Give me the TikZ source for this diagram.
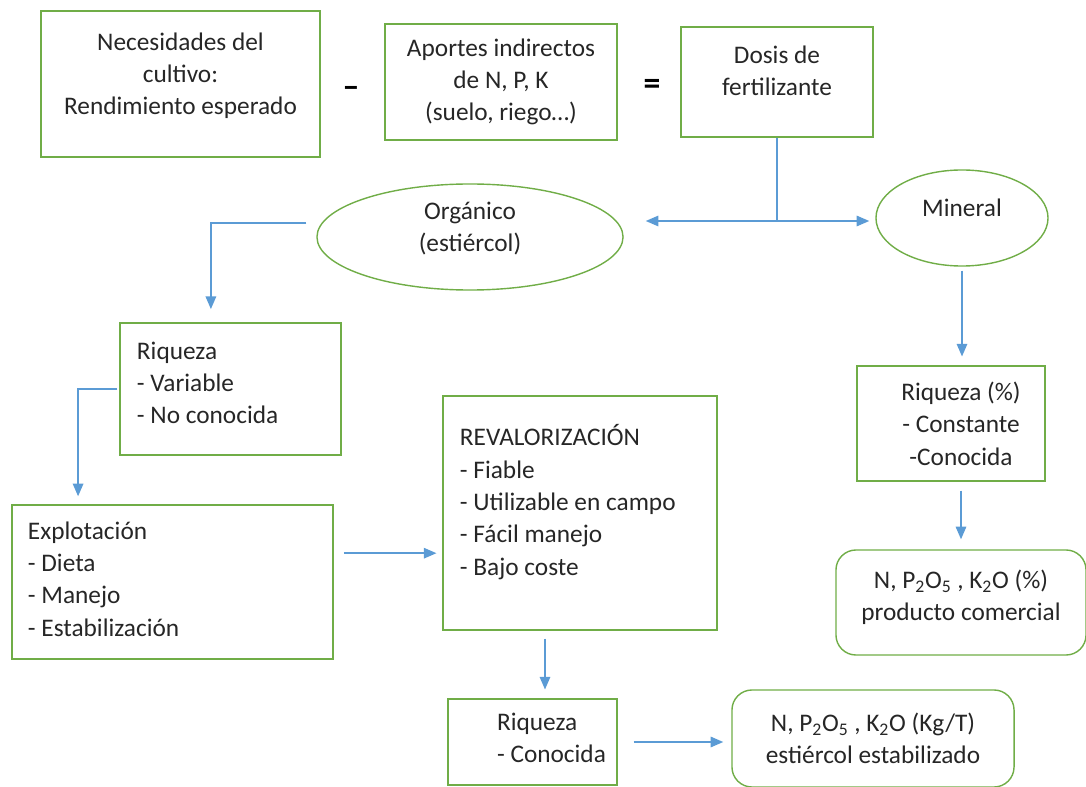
\documentclass[tikz,border=0pt]{standalone}
\usepackage{fontspec}
\setmainfont{Carlito}
\usetikzlibrary{shapes.geometric,arrows.meta}
\definecolor{boxgreen}{HTML}{70AD47}
\definecolor{linkblue}{HTML}{5B9BD5}
\tikzset{
  box/.style={draw=boxgreen,line width=1pt,align=center,inner sep=0pt,text=black!85},
  listbox/.style={box,align=flush left},
  rbox/.style={box,rounded corners=0.5cm},
  oval/.style={ellipse,draw=boxgreen,line width=1pt,align=center,inner sep=0pt,text=black!85},
  link/.style={draw=linkblue,line width=1pt},
  arrow/.style={link,-{Triangle[length=9pt,width=7.5pt]}},
  sign/.style={font=\bfseries\fontsize{24}{24}\selectfont}
}
\begin{document}
\begin{tikzpicture}[x=0.025cm,y=-0.025cm,font=\fontsize{18}{23}\selectfont]
\useasboundingbox (0,0) rectangle (1086,787);

% Top row: balance
\node[box,minimum width=6.975cm,minimum height=3.65cm] (necesidades) at (180.5,84)
  {Necesidades del\\cultivo:\\Rendimiento esperado\\[-0.3cm]};
\node[sign] (menos) at (351,92) {--};
\node[box,minimum width=5.8cm,minimum height=2.9cm] (aportes) at (501,82)
  {Aportes indirectos\\de N, P, K\\(suelo, riego\dots)};
\node[sign] (igual) at (652,87) {=};
\node[box,minimum width=4.8cm,minimum height=2.75cm] (dosis) at (777,82)
  {Dosis de\\fertilizante\\[-0.25cm]};

% Fertilizer types
\node[oval,minimum width=7.65cm,minimum height=2.65cm] (organico) at (470,237)
  {Orgánico\\(estiércol)\\[-0.3cm]};
\node[oval,minimum width=4.3cm,minimum height=2.4cm] (mineral) at (962,218)
  {Mineral\\[-0.3cm]};

% Organic branch
\node[listbox,inner xsep=0.42cm,text width=4.675cm,minimum height=3.3cm] (riqueza) at (230.5,389)
  {Riqueza\\- Variable\\- No conocida\par\vspace*{0.3cm}};
\node[listbox,inner xsep=0.4cm,text width=7.225cm,minimum height=3.85cm] (explotacion) at (172.5,582)
  {Explotación\\- Dieta\\- Manejo\\- Estabilización\par\vspace*{0.15cm}};
\node[listbox,inner xsep=0.42cm,text width=6.0cm,minimum height=5.85cm] (revalorizacion) at (580,513)
  {REVALORIZACIÓN\\- Fiable\\- Utilizable en campo\\- Fácil manejo\\- Bajo coste\par\vspace*{0.55cm}};
\node[box,align=left,minimum width=4.225cm,minimum height=2.15cm] (conocida) at (532.5,742)
  {\hspace{0.95cm}Riqueza\\\hspace{0.95cm}- Conocida\\[-0.6cm]};
\node[rbox,minimum width=7.05cm,minimum height=2.425cm] (estabilizado) at (873,738.5)
  {N, P\textsubscript{2}O\textsubscript{5} , K\textsubscript{2}O (Kg/T)\\estiércol estabilizado};

% Mineral branch
\node[box,minimum width=4.7cm,minimum height=2.875cm] (constante) at (951,423.5)
  {\hspace{0.5cm}Riqueza (\%)\\\hspace{0.5cm}- Constante\\\hspace{0.5cm}-Conocida};
\node[rbox,minimum width=6.25cm,minimum height=2.625cm] (comercial) at (961,602.5)
  {N, P\textsubscript{2}O\textsubscript{5} , K\textsubscript{2}O (\%)\\producto comercial\\[-0.45cm]};

% Connectors
\coordinate (reparto) at (dosis.south |- 0,221);
\draw[link] (dosis.south) -- (reparto);
\draw[arrow,shorten >=0.55cm] (reparto) -- (reparto -| organico.east);
\draw[arrow,shorten >=0.15cm] (reparto) -- (reparto -| mineral.west);

\coordinate (salidaorg) at ([shift={(-0.25cm,0.35cm)}]organico.west);
\draw[arrow,shorten >=0.33cm] (salidaorg) -| ([xshift=-0.49cm]riqueza.north);
\coordinate (salidariq) at ([xshift=-0.05cm]riqueza.west);
\draw[arrow,shorten >=0.2cm] (salidariq) -| ([xshift=-2.36cm]explotacion.north);
\coordinate (salidaexp) at ([yshift=0.72cm]explotacion.east);
\draw[arrow,shorten <=0.25cm,shorten >=0.15cm] (salidaexp) -- (salidaexp -| revalorizacion.west);
\coordinate (salidarev) at ([xshift=-0.875cm]revalorizacion.south);
\draw[arrow,shorten <=0.2cm,shorten >=0.22cm] (salidarev) -- (salidarev |- conocida.north);
\draw[arrow,shorten <=0.4cm,shorten >=0.2cm] (conocida.east) -- (conocida.east -| estabilizado.west);

\draw[arrow,shorten <=0.1cm,shorten >=0.22cm] (mineral.south) -- (mineral.south |- constante.north);
\draw[arrow,shorten <=0.22cm,shorten >=0.25cm] (comercial.north |- constante.south) -- (comercial.north);
\end{tikzpicture}
\end{document}
